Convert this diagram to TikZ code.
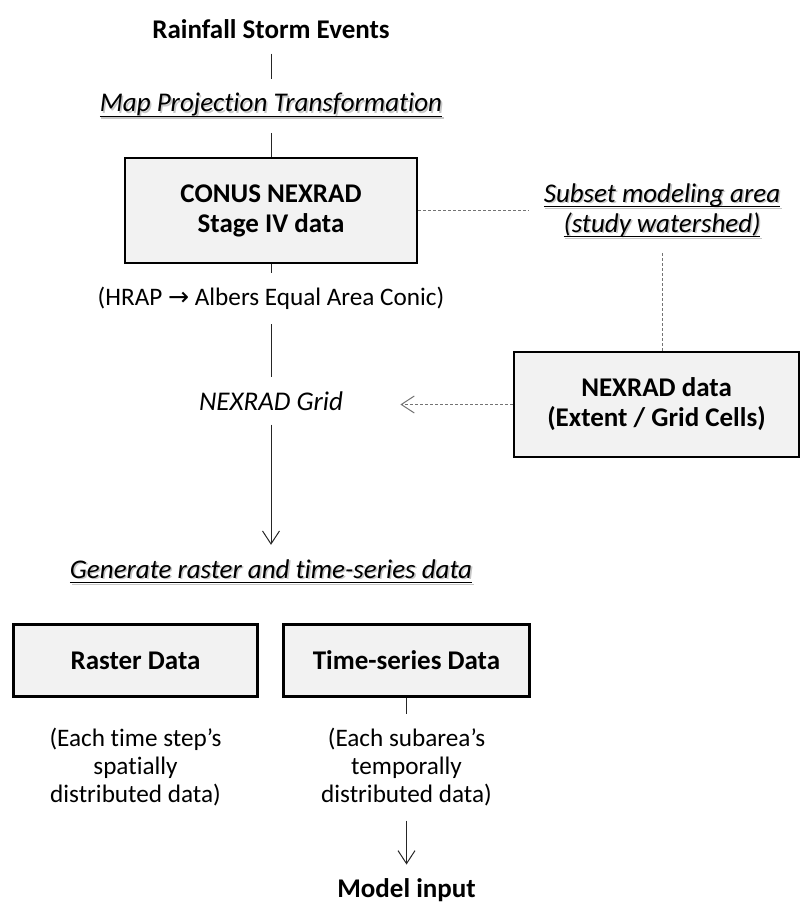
\documentclass[tikz,border=0pt]{standalone}
\usepackage{fontspec}
\setmainfont{Carlito}[Ligatures=CommonOff]
\newfontfamily\arrowfont{DejaVu Sans}
\usetikzlibrary{arrows.meta,positioning}
\newcommand{\basefont}{\fontsize{13.5}{15}\selectfont}
\newcommand{\capfont}{\fontsize{12.6}{14}\selectfont}
% underline at a fixed depth below the baseline
\newcommand{\undl}[1]{\setbox0\hbox{#1}\rlap{\rule[-2.5pt]{\wd0}{0.55pt}}\box0}
\newcommand{\shadowul}[1]{\leavevmode\rlap{\kern0.8pt\raisebox{-0.8pt}{\color{black!22}\undl{#1}}}\undl{#1}}
\tikzset{
  blk/.style={draw,rectangle,line width=1.3pt,fill=black!5,font=\basefont\bfseries,align=center},
  txt/.style={inner sep=7pt,align=center,font=\basefont},
  stagetxt/.style={txt,font=\basefont\itshape},
  captxt/.style={inner sep=7pt,align=center,font=\capfont},
  link/.style={line width=0.5pt,black!85},
  arr/.style={link,-{Straight Barb[length=6.5pt,width=8.5pt]}},
  dshd/.style={line width=0.5pt,black!55,dash pattern=on 1.5pt off 1pt}
}

\begin{document}
\begin{tikzpicture}[x=0.5pt,y=-0.5pt]
  \useasboundingbox (0,0) rectangle (802,903);

  % main column
  \node[txt,font=\basefont\bfseries,anchor=base] (storm) at (271,39) {Rainfall Storm Events};
  \node[stagetxt,anchor=base] (proj) at (271,112) {\shadowul{Map Projection Transformation}};
  \node[blk,minimum width=146pt,minimum height=52.5pt] (conus) at (271,210.5) {CONUS NEXRAD\\Stage IV data};
  \node[captxt,anchor=base] (hrap) at (271,306) {(HRAP {\arrowfont →} Albers Equal Area Conic)};
  \node[stagetxt,anchor=base] (grid) at (271,410) {NEXRAD Grid};
  \node[stagetxt,anchor=base] (gen) at (271,578) {\shadowul{Generate raster and time-series data}};

  % watershed subset on the right
  \node[stagetxt] (subset) at (662,211) {\shadowul{Subset modeling area}\\\shadowul{(study watershed)}};
  \node[blk,minimum width=142.5pt,minimum height=52.5pt] (nexgrid) at (656.5,404.5) {NEXRAD data\\(Extent / Grid Cells)};

  % outputs
  \node[blk,minimum width=122pt,minimum height=36pt] (raster) at (135.5,660.5) {Raster Data};
  \node[blk,minimum width=123pt,minimum height=36pt] (tseries) at (406.5,660.5) {Time-series Data};
  \node[captxt,below=8pt of raster] (rcap) {(Each time step’s\\spatially\\distributed data)};
  \node[captxt,below=8pt of tseries] (tcap) {(Each subarea’s\\temporally\\distributed data)};
  \node[txt,font=\basefont\bfseries,below=22pt of tcap] (model) {Model input};

  \draw[link] (storm) -- (proj);
  \draw[link] (proj) -- (conus);
  \draw[link] (conus) -- (hrap);
  \draw[link] (hrap) -- (grid);
  \draw[arr] (grid) -- (gen);
  \draw[dshd] (conus.east) -- (conus.east -| subset.west);
  \draw[dshd] (subset.south) -- (subset.south |- nexgrid.north);
  \draw[dshd,-{Straight Barb[length=6.5pt,width=8.5pt]}] (nexgrid.west) -- (nexgrid.west -| grid.east) [shorten >=21.5pt];
  \draw[link] (tseries) -- (tcap);
  \draw[arr] (tcap) -- (model);
\end{tikzpicture}
\end{document}
